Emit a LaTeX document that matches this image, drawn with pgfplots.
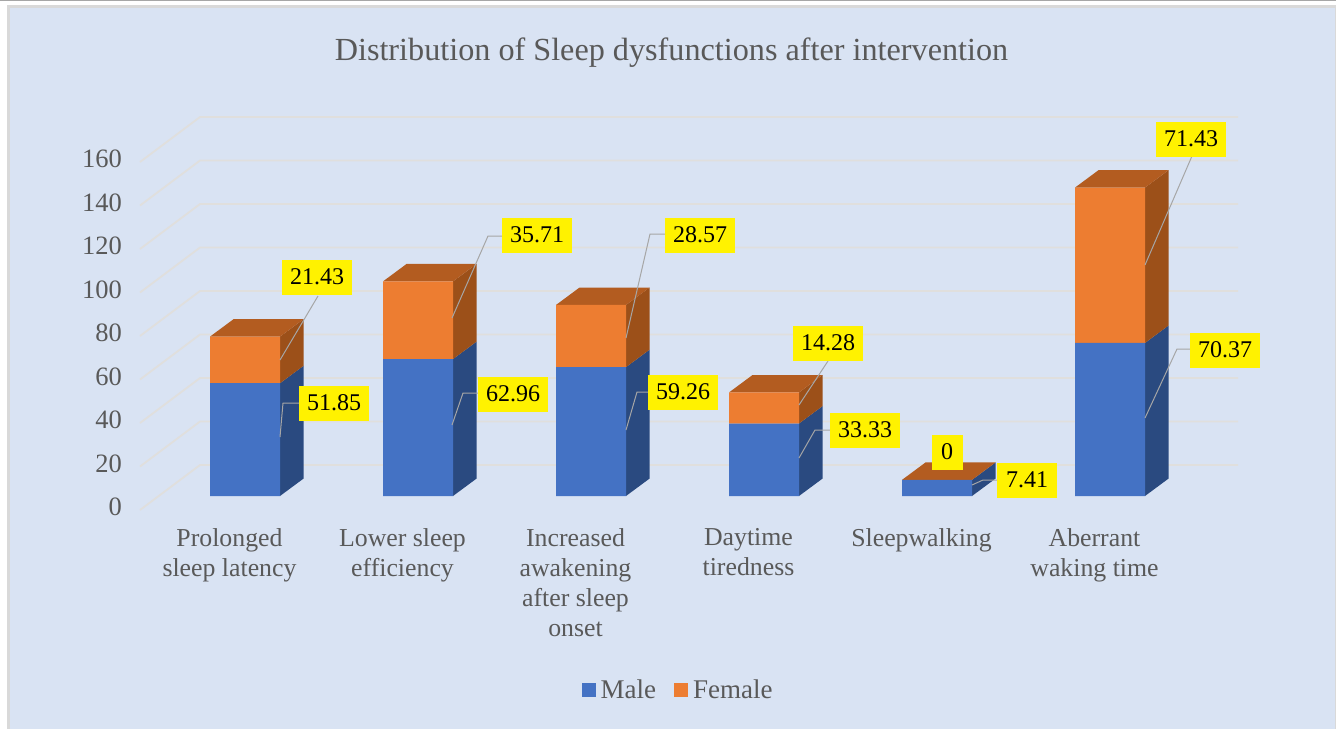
\documentclass[border=0pt]{standalone}
\usepackage{fontspec}
\setmainfont{Liberation Serif}
\usepackage{pgfplots}
\pgfplotsset{compat=1.18}
\definecolor{panel}{HTML}{D9E3F3}
\definecolor{gridc}{HTML}{E0DFDD}
\definecolor{txt}{HTML}{595959}
\definecolor{mblue}{HTML}{4472C4}
\definecolor{morange}{HTML}{ED7D31}
\definecolor{sblue}{HTML}{2A4A80}
\definecolor{sorange}{HTML}{9C5019}
\definecolor{torange}{HTML}{B35C20}
\definecolor{lead}{HTML}{A6A6A6}
\pgfplotsset{canvas/.style={scale only axis,width=1336pt,height=729pt,at={(0,0)},anchor=south west,clip=false}}
\newcommand{\lab}[3]{\node[fill=yellow,text=black,inner sep=0pt,minimum width=#3pt,minimum height=35pt,font=\fontsize{24}{26}\selectfont] at (axis cs:#1) {#2};}
\begin{document}
\begin{tikzpicture}
\useasboundingbox (0,0) rectangle (1336pt,729pt);
\fill[white] (0,0) rectangle (1336pt,729pt);
\fill[black!35] (0,727.5pt) rectangle (1336pt,729pt);
\fill[black!15] (7pt,0) rectangle (1336pt,723.5pt);
\fill[panel] (10pt,0) rectangle (1334.5pt,720.5pt);
% grid and 3D faces
\begin{axis}[canvas,xmin=0,xmax=1336,ymin=-107.126,ymax=228.046,
  axis line style={draw=none},major tick length=0pt,
  ytick={0,20,40,60,80,100,120,140,160},
  xtick={245,418,591,764,937,1110},
  xticklabels={{Prolonged\\sleep latency},{Lower sleep\\efficiency},{Increased\\awakening\\after sleep\\onset},{Daytime\\tiredness},{Sleepwalking},{Aberrant\\waking time}},
  /pgf/number format/assume math mode=true,
  yticklabel style={text=txt,font=\fontsize{26.5}{30}\selectfont,anchor=east,xshift=122pt,yshift=-11pt,inner sep=0pt},
  xticklabel style={text=txt,font=\fontsize{25.8}{30}\selectfont,align=center,anchor=north,xshift=-15.5pt,yshift=201pt,inner sep=0pt},
  grid line/.style={gridc,line width=1.8pt}]
\addplot[grid line] coordinates {(140,-6.44)(200,14.25)(1238,14.25)};
\addplot[grid line] coordinates {(140,13.56)(200,34.25)(1238,34.25)};
\addplot[grid line] coordinates {(140,33.56)(200,54.25)(1238,54.25)};
\addplot[grid line] coordinates {(140,53.56)(200,74.25)(1238,74.25)};
\addplot[grid line] coordinates {(140,73.56)(200,94.25)(1238,94.25)};
\addplot[grid line] coordinates {(140,93.56)(200,114.25)(1238,114.25)};
\addplot[grid line] coordinates {(140,113.56)(200,134.25)(1238,134.25)};
\addplot[grid line] coordinates {(140,133.56)(200,154.25)(1238,154.25)};
\addplot[grid line] coordinates {(140,153.56)(200,174.25)(1238,174.25)};
% side faces, male
\addplot[fill=sblue,draw=none] coordinates {(280,0)(303.5,8)(303.5,59.85)(280,51.85)} --cycle;
\addplot[fill=sblue,draw=none] coordinates {(453,0)(476.5,8)(476.5,70.96)(453,62.96)} --cycle;
\addplot[fill=sblue,draw=none] coordinates {(626,0)(649.5,8)(649.5,67.26)(626,59.26)} --cycle;
\addplot[fill=sblue,draw=none] coordinates {(799,0)(822.5,8)(822.5,41.33)(799,33.33)} --cycle;
\addplot[fill=sblue,draw=none] coordinates {(972,0)(995.5,8)(995.5,15.41)(972,7.41)} --cycle;
\addplot[fill=sblue,draw=none] coordinates {(1145,0)(1168.5,8)(1168.5,78.37)(1145,70.37)} --cycle;
% side faces, female
\addplot[fill=sorange,draw=none] coordinates {(280,51.85)(303.5,59.85)(303.5,81.28)(280,73.28)} --cycle;
\addplot[fill=sorange,draw=none] coordinates {(453,62.96)(476.5,70.96)(476.5,106.67)(453,98.67)} --cycle;
\addplot[fill=sorange,draw=none] coordinates {(626,59.26)(649.5,67.26)(649.5,95.83)(626,87.83)} --cycle;
\addplot[fill=sorange,draw=none] coordinates {(799,33.33)(822.5,41.33)(822.5,55.61)(799,47.61)} --cycle;
\addplot[fill=sorange,draw=none] coordinates {(1145,70.37)(1168.5,78.37)(1168.5,149.80)(1145,141.80)} --cycle;
% top faces
\addplot[fill=torange,draw=none] coordinates {(210,73.28)(233.5,81.28)(303.5,81.28)(280,73.28)} --cycle;
\addplot[fill=torange,draw=none] coordinates {(383,98.67)(406.5,106.67)(476.5,106.67)(453,98.67)} --cycle;
\addplot[fill=torange,draw=none] coordinates {(556,87.83)(579.5,95.83)(649.5,95.83)(626,87.83)} --cycle;
\addplot[fill=torange,draw=none] coordinates {(729,47.61)(752.5,55.61)(822.5,55.61)(799,47.61)} --cycle;
\addplot[fill=torange,draw=none] coordinates {(902,7.41)(925.5,15.41)(995.5,15.41)(972,7.41)} --cycle;
\addplot[fill=torange,draw=none] coordinates {(1075,141.80)(1098.5,149.80)(1168.5,149.80)(1145,141.80)} --cycle;
\end{axis}
% front faces
\begin{axis}[canvas,hide axis,xmin=0,xmax=1336,ymin=-107.126,ymax=228.046,
  ybar stacked,bar width=70pt,
  legend style={draw=none,fill=none,at={(0.5075,0.0535)},anchor=center,legend columns=2,
    font=\fontsize{27}{28}\selectfont,text=txt,inner sep=0pt,
    /tikz/every even column/.append style={column sep=16pt}},
  legend image code/.code={\fill[#1] (0pt,-6.5pt) rectangle (14pt,7.5pt); \path (17pt,0pt);}]
\addplot[fill=mblue,draw=none] coordinates {(245,51.85)(418,62.96)(591,59.26)(764,33.33)(937,7.41)(1110,70.37)};
\addplot[fill=morange,draw=none] coordinates {(245,21.43)(418,35.71)(591,28.57)(764,14.28)(937,0)(1110,71.43)};
\legend{Male,Female}
\end{axis}
% title, leader lines and value labels, in picture pixels
\begin{axis}[canvas,hide axis,xmin=0,xmax=1336,ymin=0,ymax=729,y dir=reverse]
\node[text=txt,font=\fontsize{32.2}{34}\selectfont] at (axis cs:671.5,52.5) {Distribution of Sleep dysfunctions after intervention};
\addplot[lead,line width=1pt] coordinates {(280,360)(318,296)};
\addplot[lead,line width=1pt] coordinates {(280,437)(283,403)(299,403)};
\addplot[lead,line width=1pt] coordinates {(452,318)(488,236)(502,236)};
\addplot[lead,line width=1pt] coordinates {(452,425)(463,393)(478,393)};
\addplot[lead,line width=1pt] coordinates {(626,338)(650,234)(665,234)};
\addplot[lead,line width=1pt] coordinates {(626,430)(637,392)(648,392)};
\addplot[lead,line width=1pt] coordinates {(799,405)(828,361)};
\addplot[lead,line width=1pt] coordinates {(799,458)(815,430)(830,430)};
\addplot[lead,line width=1pt] coordinates {(972,485)(983,480)(997,480)};
\addplot[lead,line width=1pt] coordinates {(1145,418)(1177,349)(1190,349)};
\addplot[lead,line width=1pt] coordinates {(1145,265)(1192,156)};
\lab{317,277}{21.43}{70}
\lab{334,403}{51.85}{70}
\lab{537,235}{35.71}{70}
\lab{513,394}{62.96}{70}
\lab{700,235}{28.57}{70}
\lab{683,392}{59.26}{70}
\lab{828,343}{14.28}{70}
\lab{865,430}{33.33}{70}
\lab{947,452}{0}{31}
\lab{1027,480}{7.41}{60}
\lab{1225,350}{70.37}{70}
\lab{1191,139}{71.43}{70}
\end{axis}
\end{tikzpicture}
\end{document}
